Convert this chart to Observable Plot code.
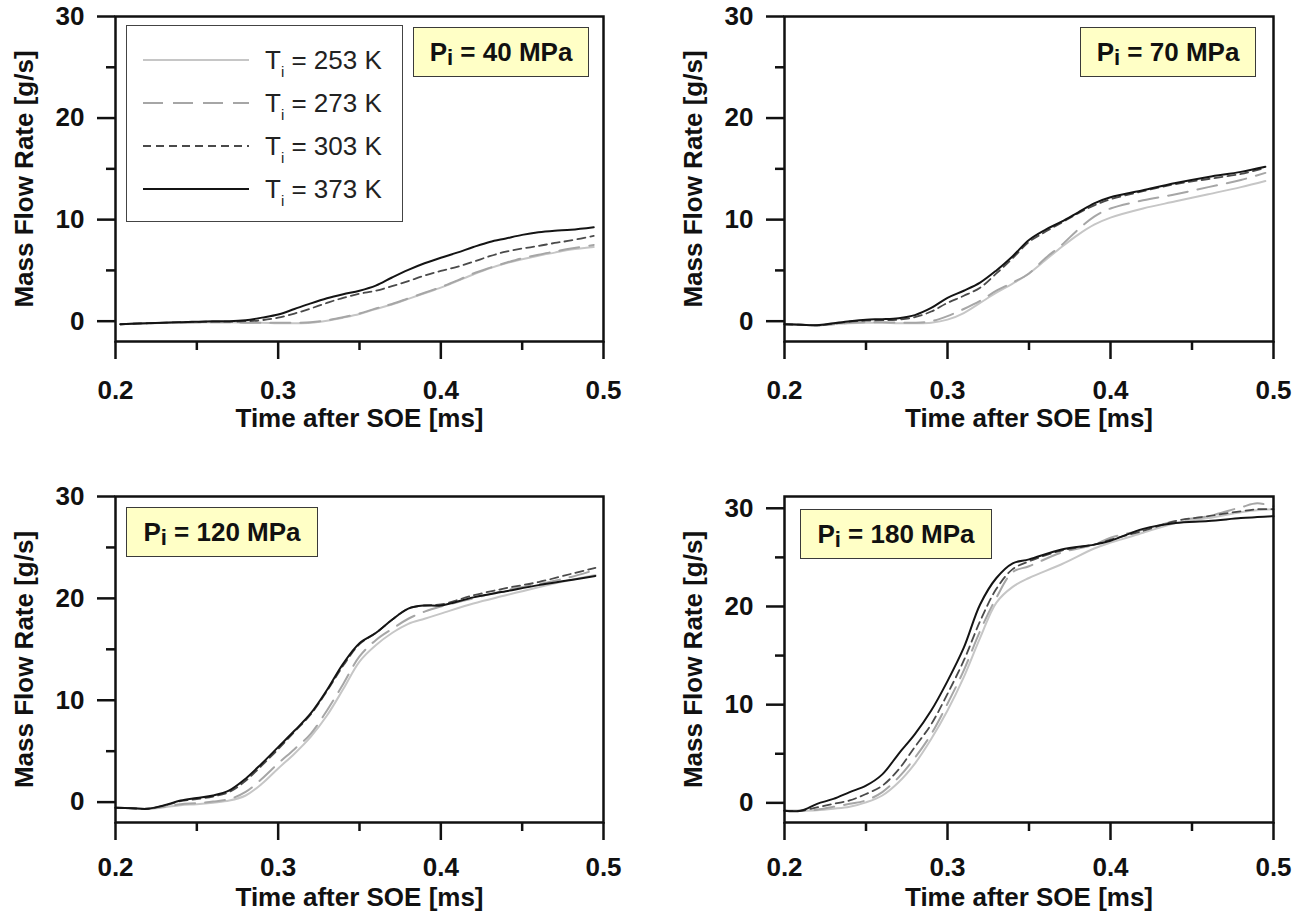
<!DOCTYPE html>
<html>
<head>
<meta charset="utf-8">
<script src="https://cdn.jsdelivr.net/npm/d3@7"></script>
<script src="https://cdn.jsdelivr.net/npm/@observablehq/plot@0.6"></script>
<style>
  body { margin: 0; background: #fff; font-family: "Liberation Sans", Arial, sans-serif; }
  #chart { position: relative; width: 1308px; height: 922px; overflow: hidden; background: #fff; }
  .panel { position: absolute; }
  .plabel { position: absolute; box-sizing: border-box; background: #ffffc6; border: 1.5px solid #3a3a3a;
            font-weight: bold; font-size: 26px; color: #111; display: flex; align-items: center; justify-content: center;
            white-space: pre; }
  .plabel .sub { font-size: 22px; position: relative; top: 6px; }
  .legend { position: absolute; box-sizing: border-box; border: 1.5px solid #444; background: #fff; }
  .legend .row { position: absolute; left: 0; height: 30px; display: flex; align-items: center; }
  .legend .txt { font-size: 26px; color: #222; white-space: pre; margin-left: 16px; }
  .legend .txt .sub { font-size: 15px; position: relative; top: 8px; }
</style>
</head>
<body>
<div id="chart"></div>
<script>
// ---------------- data ----------------
const temps = [253, 273, 303, 373];
const pressures = [40, 70, 120, 180];
const xTicksMajor = [0.2, 0.3, 0.4, 0.5];
const xTicksMinor = [0.25, 0.35, 0.45];
const yTicksMajor = [0, 10, 20, 30];
const yTicksMinor = [5, 15, 25];

// P = 40 MPa
const t40 = [0.203, 0.22, 0.24, 0.26, 0.27, 0.28, 0.29, 0.30, 0.31, 0.32, 0.33, 0.34, 0.35, 0.36, 0.37, 0.38, 0.39, 0.40, 0.41, 0.42, 0.43, 0.44, 0.45, 0.46, 0.47, 0.48, 0.494];
const p40_253 = [-0.3, -0.2, -0.15, -0.1, -0.1, -0.15, -0.15, -0.2, -0.2, -0.15, 0.05, 0.35, 0.7, 1.2, 1.65, 2.2, 2.75, 3.3, 3.95, 4.6, 5.2, 5.7, 6.1, 6.45, 6.75, 7.05, 7.3];
const p40_273 = [-0.3, -0.2, -0.15, -0.1, -0.1, -0.15, -0.15, -0.15, -0.15, -0.1, 0.1, 0.4, 0.75, 1.25, 1.7, 2.25, 2.8, 3.35, 4.0, 4.7, 5.25, 5.75, 6.2, 6.55, 6.85, 7.15, 7.5];
const p40_303 = [-0.3, -0.2, -0.1, -0.05, -0.05, 0.0, 0.1, 0.35, 0.75, 1.25, 1.8, 2.3, 2.7, 3.0, 3.45, 3.95, 4.5, 4.95, 5.35, 5.85, 6.4, 6.85, 7.15, 7.4, 7.7, 7.95, 8.4];
const p40_373 = [-0.3, -0.2, -0.1, 0.0, 0.0, 0.1, 0.35, 0.65, 1.2, 1.75, 2.25, 2.65, 3.0, 3.5, 4.3, 5.05, 5.7, 6.25, 6.75, 7.3, 7.8, 8.15, 8.5, 8.75, 8.9, 9.0, 9.25];

// P = 70 MPa
const t70 = [0.2, 0.21, 0.22, 0.23, 0.24, 0.25, 0.26, 0.27, 0.28, 0.29, 0.30, 0.31, 0.32, 0.33, 0.34, 0.35, 0.36, 0.37, 0.38, 0.39, 0.40, 0.42, 0.44, 0.46, 0.48, 0.495];
const p70_253 = [-0.3, -0.35, -0.4, -0.3, -0.2, -0.15, -0.15, -0.2, -0.2, -0.15, 0.15, 0.8, 1.8, 2.8, 3.7, 4.7, 6.0, 7.3, 8.5, 9.5, 10.2, 11.1, 11.8, 12.5, 13.2, 13.8];
const p70_273 = [-0.3, -0.35, -0.4, -0.3, -0.15, -0.1, -0.1, -0.15, -0.15, 0.0, 0.5, 1.2, 2.0, 3.0, 3.8, 4.7, 6.2, 7.5, 9.0, 10.3, 11.1, 11.9, 12.5, 13.2, 13.9, 14.6];
const p70_303 = [-0.3, -0.35, -0.4, -0.25, -0.05, 0.05, 0.1, 0.15, 0.4, 0.95, 1.8, 2.5, 3.3, 4.7, 6.2, 7.8, 8.8, 9.7, 10.6, 11.4, 12.0, 12.8, 13.5, 14.0, 14.5, 15.1];
const p70_373 = [-0.3, -0.35, -0.4, -0.2, 0.0, 0.15, 0.2, 0.3, 0.6, 1.3, 2.3, 3.0, 3.8, 5.0, 6.4, 8.0, 9.0, 9.8, 10.7, 11.6, 12.2, 12.9, 13.6, 14.2, 14.7, 15.2];

// P = 120 MPa
const t120 = [0.2, 0.21, 0.22, 0.23, 0.24, 0.25, 0.26, 0.27, 0.28, 0.29, 0.30, 0.31, 0.32, 0.33, 0.34, 0.35, 0.36, 0.37, 0.38, 0.39, 0.40, 0.42, 0.44, 0.46, 0.48, 0.495];
const p120_253 = [-0.55, -0.6, -0.65, -0.5, -0.3, -0.2, -0.05, 0.15, 0.65, 1.8, 3.3, 4.75, 6.4, 8.5, 11.1, 13.8, 15.4, 16.6, 17.5, 18.0, 18.5, 19.5, 20.3, 21.1, 21.8, 22.3];
const p120_273 = [-0.55, -0.6, -0.65, -0.45, -0.2, -0.1, 0.05, 0.3, 1.0, 2.3, 3.8, 5.2, 6.7, 9.0, 11.6, 14.3, 15.9, 17.0, 18.0, 18.7, 19.2, 20.0, 20.8, 21.4, 22.1, 22.8];
const p120_303 = [-0.55, -0.6, -0.65, -0.35, 0.1, 0.3, 0.55, 1.0, 2.1, 3.6, 5.2, 6.9, 8.6, 10.9, 13.4, 15.5, 16.6, 17.9, 19.0, 19.3, 19.4, 20.3, 21.0, 21.6, 22.4, 23.0];
const p120_373 = [-0.55, -0.6, -0.65, -0.3, 0.15, 0.4, 0.65, 1.15, 2.3, 3.8, 5.4, 7.0, 8.7, 11.0, 13.6, 15.6, 16.6, 17.9, 19.0, 19.3, 19.3, 20.1, 20.7, 21.3, 21.8, 22.2];

// P = 180 MPa
const t180 = [0.2, 0.21, 0.22, 0.23, 0.24, 0.25, 0.26, 0.27, 0.28, 0.29, 0.30, 0.31, 0.32, 0.33, 0.34, 0.35, 0.37, 0.39, 0.40, 0.42, 0.44, 0.46, 0.48, 0.49, 0.5];
const p180_253 = [-0.8, -0.8, -0.75, -0.6, -0.4, 0.05, 0.75, 2.1, 4.0, 6.5, 9.4, 12.8, 16.8, 20.4, 22.0, 22.9, 24.3, 25.9, 26.5, 27.5, 28.5, 29.0, 29.6, 29.8, 29.9];
const p180_273 = [-0.8, -0.8, -0.7, -0.4, -0.1, 0.25, 1.1, 2.6, 4.6, 7.0, 10.1, 13.5, 17.5, 20.9, 23.5, 24.1, 25.5, 26.3, 27.0, 27.8, 28.7, 29.2, 30.1, 30.5, 30.2];
const p180_303 = [-0.8, -0.8, -0.45, -0.1, 0.25, 0.9, 1.75, 3.4, 5.7, 8.0, 11.1, 14.5, 18.5, 21.8, 23.8, 24.6, 25.7, 26.3, 26.8, 27.7, 28.7, 29.2, 29.7, 29.9, 29.9];
const p180_373 = [-0.8, -0.8, -0.1, 0.4, 1.1, 1.75, 2.9, 5.0, 7.0, 9.4, 12.4, 15.8, 20.2, 22.9, 24.4, 24.8, 25.8, 26.3, 26.7, 27.9, 28.5, 28.7, 29.0, 29.1, 29.2];

const yTop = [30, 30, 30, 31.2];

// ---------------- styles ----------------
const lineStyle = {
  253: { stroke: "#c6c6c6", strokeWidth: 2, strokeDasharray: null },
  273: { stroke: "#a6a6a6", strokeWidth: 2, strokeDasharray: "20 10" },
  303: { stroke: "#4a4a4a", strokeWidth: 1.8, strokeDasharray: "8 5" },
  373: { stroke: "#141414", strokeWidth: 2, strokeDasharray: null }
};

const panelData = [
  { t: t40, v: [p40_253, p40_273, p40_303, p40_373] },
  { t: t70, v: [p70_253, p70_273, p70_303, p70_373] },
  { t: t120, v: [p120_253, p120_273, p120_303, p120_373] },
  { t: t180, v: [p180_253, p180_273, p180_303, p180_373] }
];

const layout = [
  { left: 0,   top: 0,   ml: 115, mr: 51, mt: 16, mb: 120, pad: 21, lo: 85, box: { left: 413, top: 27, w: 176, h: 50 } },
  { left: 654, top: 0,   ml: 130, mr: 35, mt: 16, mb: 120, pad: 21, lo: 85, box: { left: 1080, top: 27, w: 176, h: 50 } },
  { left: 0,   top: 461, ml: 115, mr: 51, mt: 35, mb: 100, pad: 17, lo: 83, box: { left: 126, top: 507, w: 192, h: 50 } },
  { left: 654, top: 461, ml: 130, mr: 35, mt: 35, mb: 100, pad: 17, lo: 83, box: { left: 800, top: 509, w: 192, h: 50 } }
];

const chart = document.getElementById("chart");
const fmt = d3.format(".1f");

panelData.forEach((pd, k) => {
  const L = layout[k];
  const rows = [];
  temps.forEach((T, j) => pd.t.forEach((x, i) => rows.push({ temp: T, t: x, v: pd.v[j][i] })));
  const lineMarks = temps.map(T => Plot.line(rows.filter(r => r.temp === T), {
    x: "t", y: "v", curve: "catmull-rom",
    stroke: lineStyle[T].stroke, strokeWidth: lineStyle[T].strokeWidth,
    strokeDasharray: lineStyle[T].strokeDasharray || undefined
  }));
  const svg = Plot.plot({
    width: 654, height: 461,
    marginLeft: L.ml, marginRight: L.mr, marginTop: L.mt, marginBottom: L.mb,
    x: { domain: [0.2, 0.5] },
    y: { domain: [-2, yTop[k]] },
    style: { fontFamily: "'Liberation Sans', Arial, sans-serif", fontSize: "26px", fontWeight: "bold", color: "#111", background: "transparent", overflow: "visible" },
    marks: [
      ...lineMarks,
      Plot.frame({ stroke: "#111", strokeWidth: 2.5 }),
      Plot.axisX(xTicksMajor, { tickSize: 18, tickPadding: L.pad, strokeWidth: 2.5, tickFormat: fmt,
        label: "Time after SOE [ms]", labelAnchor: "center", labelOffset: L.lo, labelArrow: "none" }),
      Plot.axisX(xTicksMinor, { tickSize: 9, strokeWidth: 2.5, tickFormat: () => "", label: null }),
      Plot.axisY(yTicksMajor, { tickSize: 18, tickPadding: 13, strokeWidth: 2.5,
        label: "Mass Flow Rate [g/s]", labelAnchor: "center", labelOffset: 101, labelArrow: "none" }),
      Plot.axisY(yTicksMinor, { tickSize: 9, strokeWidth: 2.5, tickFormat: () => "", label: null })
    ]
  });
  const wrap = document.createElement("div");
  wrap.className = "panel";
  wrap.style.left = L.left + "px";
  wrap.style.top = L.top + "px";
  wrap.appendChild(svg);
  chart.appendChild(wrap);

  const b = document.createElement("div");
  b.className = "plabel";
  b.style.left = L.box.left + "px"; b.style.top = L.box.top + "px";
  b.style.width = L.box.w + "px"; b.style.height = L.box.h + "px";
  b.innerHTML = `P<span class="sub">i</span> = ${pressures[k]} MPa`;
  chart.appendChild(b);
});

// legend (inside first panel)
const lg = document.createElement("div");
lg.className = "legend";
lg.style.left = "126px"; lg.style.top = "25px"; lg.style.width = "277px"; lg.style.height = "197px";
temps.forEach((T, j) => {
  const row = document.createElement("div");
  row.className = "row";
  row.style.top = (34 + 43 * j - 15) + "px";
  const s = lineStyle[T];
  row.innerHTML = `<svg width="122" height="30" style="display:block"><line x1="16" x2="122" y1="15" y2="15" stroke="${s.stroke}" stroke-width="${s.strokeWidth}" ${s.strokeDasharray ? `stroke-dasharray="${s.strokeDasharray}"` : ""}/></svg><span class="txt">T<span class="sub">i</span> = ${T} K</span>`;
  lg.appendChild(row);
});
chart.appendChild(lg);
</script>
</body>
</html>
